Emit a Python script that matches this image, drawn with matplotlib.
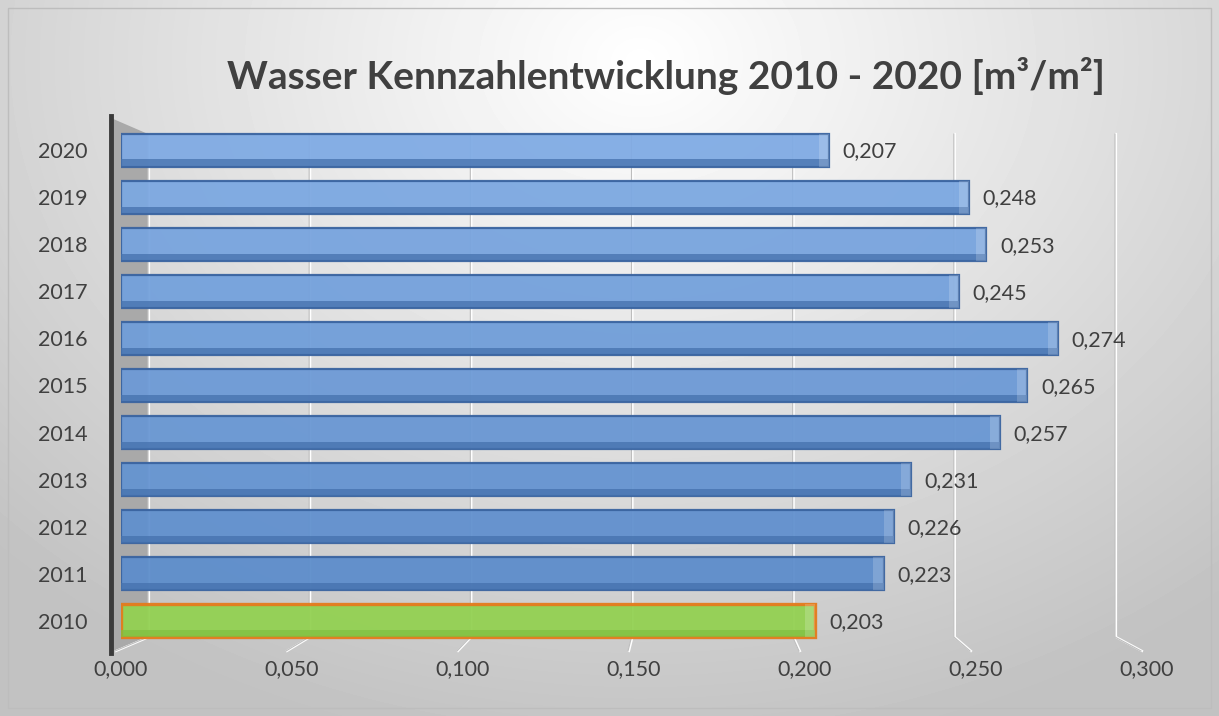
import numpy as np
import matplotlib.pyplot as plt
from matplotlib.patches import Polygon, Rectangle
from matplotlib.lines import Line2D
from matplotlib.colors import to_rgb

plt.rcParams['font.family'] = ['Lato', 'DejaVu Sans']

# Daten
jahre = ['2010', '2011', '2012', '2013', '2014', '2015', '2016', '2017', '2018', '2019', '2020']
werte = [0.203, 0.223, 0.226, 0.231, 0.257, 0.265, 0.274, 0.245, 0.253, 0.248, 0.207]
x_ticks = [0.000, 0.050, 0.100, 0.150, 0.200, 0.250, 0.300]
titel = 'Wasser Kennzahlentwicklung 2010 - 2020 [m³/m²]'

W, H = 1219, 716
fig = plt.figure(figsize=(W / 100, H / 100), dpi=100)


def fx(px):
    return px / W


def fy(py):
    return 1 - py / H


# Hintergrund mit Verlauf
bg = fig.add_axes([0, 0, 1, 1], zorder=-5)
yy, xx = np.mgrid[0:H, 0:W]
d = np.sqrt(((xx - 640) / 900) ** 2 + ((yy - 60) / 700) ** 2)
shade = np.clip(1.0 - 0.24 * d, 0.76, 1.0)
bg.imshow(shade, cmap='gray', vmin=0, vmax=1, extent=[0, 1, 0, 1], aspect='auto')
bg.set_axis_off()
bg.add_patch(Rectangle((fx(8), fy(708)), fx(1211) - fx(8), fy(8) - fy(708), fill=False,
                       edgecolor='#bdbdbd', lw=1, transform=fig.transFigure))

# Diagrammbereich
x_left, x_right = 121, 1147
y_top, y_bot = 118, 652
ax = fig.add_axes([fx(x_left), fy(y_bot), fx(x_right) - fx(x_left), fy(y_top) - fy(y_bot)])
ax.set_facecolor('none')
ax.set_xlim(0, 0.3)
ax.set_ylim(-0.66, 10.68)
for s in ax.spines.values():
    s.set_visible(False)

# Seitenwand und Achsenlinie
ax.add_patch(Polygon([(fx(111), fy(118)), (fx(148), fy(134)), (fx(148), fy(637)), (fx(111), fy(652))],
                     closed=True, facecolor='#a9a9a9', edgecolor='none', transform=fig.transFigure,
                     zorder=0, clip_on=False))
ax.add_line(Line2D([fx(111), fx(111)], [fy(116), fy(653)], color='#3a3a3a', lw=3.5,
                   transform=fig.transFigure, zorder=1, clip_on=False))

# Gitterlinien (hinten) mit Boden-Schraege
for v in x_ticks:
    back = 148 + v / 0.3 * 967
    front = x_left + v / 0.3 * (x_right - x_left) - 6
    for col, lw, off in (('#ffffff', 1.6, 1), ('#bdbdbd', 0.8, 0)):
        ax.add_line(Line2D([fx(back + off), fx(back + off), fx(front + off)],
                           [fy(134), fy(637), fy(651)], color=col, lw=lw,
                           transform=fig.transFigure, zorder=0.5, clip_on=False))

# Balken
y = np.arange(len(jahre))
hell = np.array(to_rgb('#80abe4'))
dunkel = np.array(to_rgb('#5d8dcb'))
for i, (yi, v) in enumerate(zip(y, werte)):
    if i == 0:
        face, edge, band, lw = '#93d152', '#e47b1c', '#80c040', 2.4
    else:
        t = (i - 1) / 9
        face = tuple(dunkel * (1 - t) + hell * t)
        edge, band, lw = '#3a64a0', '#4571ad', 1.6
    ax.barh(yi, v, height=0.7, color=face, edgecolor=edge, linewidth=lw, alpha=0.95, zorder=3)
    ax.barh(yi - 0.27, v, height=0.14, color=band, edgecolor='none', alpha=0.75, zorder=4)
    ax.barh(yi, 0.003, left=v - 0.003, height=0.7, color='white', edgecolor='none', alpha=0.18, zorder=4)
    ax.text(v + 0.004, yi - 0.03, f'{v:.3f}'.replace('.', ','), va='center', ha='left',
            fontsize=15.5, color='#404040', zorder=5)

ax.set_yticks(y)
ax.set_yticklabels(jahre, fontsize=15.5, color='#404040')
ax.set_xticks(x_ticks)
ax.set_xticklabels([f'{v:.3f}'.replace('.', ',') for v in x_ticks], fontsize=15.5, color='#404040')
ax.tick_params(axis='y', length=0, pad=24)
ax.tick_params(axis='x', length=0, pad=5)

fig.text(fx(666), fy(76), titel, ha='center', va='center', fontsize=28, fontweight='bold',
         color='#404040')

fig.savefig('out.png', dpi=100)
